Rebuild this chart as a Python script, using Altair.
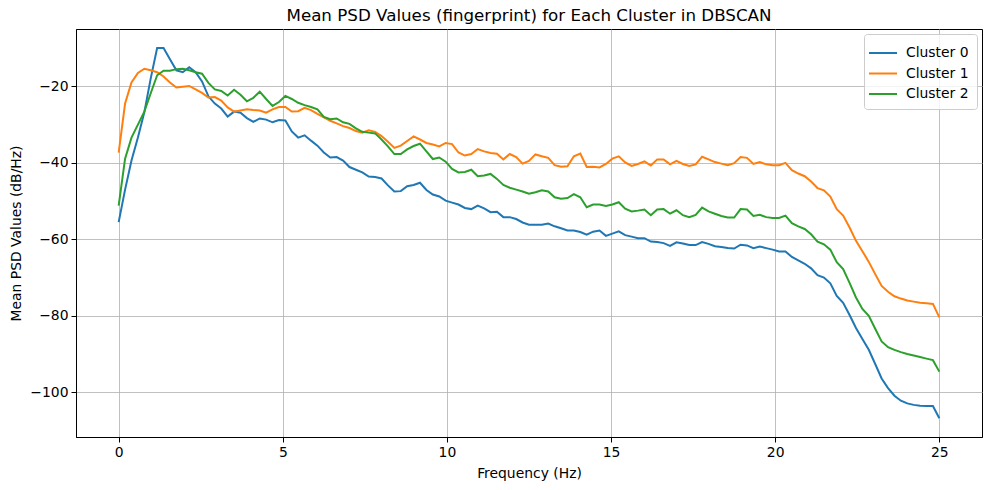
import altair as alt
import pandas as pd

n_points = 129
freq = [k * 25 / 128 for k in range(n_points)]

cluster_names = ["Cluster 0", "Cluster 1", "Cluster 2"]
colors = ["#1f77b4", "#ff7f0e", "#2ca02c"]

c0 = [-55.5, -47.0, -39.4, -33.4, -26.8, -17.9, -10.0, -10.0, -12.9, -15.8,
      -16.3, -15.0, -16.3, -18.7, -22.6, -24.5, -25.8, -27.9, -26.6, -26.9,
      -28.3, -29.3, -28.4, -28.7, -29.4, -28.8, -28.9, -31.8, -33.4, -32.8,
      -34.2, -35.5, -37.3, -38.6, -38.5, -39.4, -41.1, -41.8, -42.5, -43.6,
      -43.7, -44.1, -45.9, -47.5, -47.4, -46.1, -45.8, -45.2, -47.1, -48.3,
      -48.8, -49.9, -50.4, -50.9, -51.8, -52.1, -51.2, -51.9, -52.9, -52.8,
      -54.2, -54.2, -54.7, -55.6, -56.2, -56.2, -56.2, -55.9, -56.6, -57.1,
      -57.7, -57.7, -58.1, -58.8, -58.0, -57.7, -59.1, -58.5, -57.9, -58.9,
      -59.3, -59.7, -59.7, -60.6, -60.7, -61.0, -61.7, -60.8, -61.1, -61.5,
      -61.5, -60.7, -61.2, -61.8, -62.0, -62.3, -62.4, -61.4, -61.6, -62.3,
      -61.9, -62.3, -62.7, -63.2, -63.2, -64.6, -65.5, -66.4, -67.6, -69.4,
      -70.0, -71.5, -74.8, -76.6, -79.8, -83.2, -86.1, -88.9, -92.6, -96.4,
      -98.9, -100.9, -102.2, -102.9, -103.3, -103.5, -103.6, -103.6, -106.8]

c1 = [-37.3, -24.5, -19.0, -16.5, -15.4, -15.8, -16.3, -17.4, -19.0, -20.3,
      -20.1, -19.9, -20.8, -21.7, -22.9, -22.8, -23.7, -25.5, -26.6, -26.3,
      -26.0, -26.2, -26.3, -26.9, -26.0, -25.4, -25.4, -26.6, -26.5, -25.6,
      -26.2, -27.2, -28.1, -29.0, -29.7, -30.4, -30.9, -31.7, -32.1, -31.5,
      -31.9, -33.0, -34.5, -36.1, -35.5, -34.3, -33.1, -33.9, -34.8, -35.2,
      -35.7, -34.8, -35.1, -37.3, -38.1, -37.7, -36.4, -37.0, -37.4, -37.6,
      -39.1, -37.7, -38.5, -40.2, -39.5, -37.8, -38.3, -38.7, -40.6, -41.0,
      -40.9, -38.3, -37.6, -41.1, -41.0, -41.2, -40.3, -38.9, -38.3, -39.9,
      -40.8, -40.3, -39.6, -40.7, -39.1, -39.1, -40.4, -39.5, -40.3, -40.8,
      -40.4, -38.4, -39.1, -39.8, -40.2, -40.6, -40.1, -38.5, -38.7, -40.3,
      -39.8, -40.4, -40.6, -40.6, -40.0, -41.9, -42.8, -43.5, -44.9, -46.6,
      -47.2, -48.8, -52.1, -53.8, -56.9, -60.4, -63.1, -65.9, -69.1, -72.2,
      -73.7, -74.9, -75.5, -76.0, -76.3, -76.6, -76.7, -76.9, -80.4]

c2 = [-51.2, -38.9, -33.4, -30.0, -26.6, -21.8, -17.1, -15.9, -15.9, -15.5,
      -15.4, -15.8, -16.3, -16.7, -19.1, -20.8, -21.2, -22.4, -20.9, -22.2,
      -23.9, -23.0, -21.4, -23.3, -25.1, -24.1, -22.5, -23.3, -24.3, -24.9,
      -25.4, -26.0, -28.0, -28.6, -28.4, -29.4, -29.8, -31.0, -31.9, -32.1,
      -32.3, -33.9, -35.7, -37.7, -37.7, -36.5, -35.6, -35.0, -37.0, -39.0,
      -38.6, -39.7, -41.6, -42.5, -42.4, -41.8, -43.5, -43.3, -42.9, -44.2,
      -45.8, -46.5, -47.0, -47.5, -48.1, -47.7, -47.2, -47.5, -49.0, -49.4,
      -49.2, -48.2, -49.0, -51.6, -50.9, -50.9, -51.3, -50.9, -50.3, -52.0,
      -52.7, -52.5, -52.2, -53.7, -52.2, -52.1, -53.3, -52.4, -53.7, -54.2,
      -53.6, -51.7, -52.7, -53.3, -53.9, -54.3, -54.3, -52.1, -52.2, -53.9,
      -53.6, -54.2, -54.4, -54.4, -53.8, -55.8, -56.6, -57.3, -58.7, -60.6,
      -61.3, -62.7, -66.0, -67.8, -71.4, -75.2, -78.2, -80.0, -83.4, -86.7,
      -88.2, -88.9, -89.5, -90.0, -90.4, -90.8, -91.2, -91.6, -94.6]

x_ticks = [0, 5, 10, 15, 20, 25]
y_ticks = [-100, -80, -60, -40, -20]

rows = []
for name, series in zip(cluster_names, [c0, c1, c2]):
    for f, v in zip(freq, series):
        rows.append({"freq": f, "psd": v, "cluster": name, "order": cluster_names.index(name)})
df = pd.DataFrame(rows)

FONT = "DejaVu Sans"

chart = alt.Chart(df).mark_line(strokeWidth=2, clip=True).encode(
    x=alt.X("freq:Q",
            scale=alt.Scale(domain=[-1.3, 26.3], nice=False, zero=False),
            axis=alt.Axis(values=x_ticks, format="d", title="Frequency (Hz)",
                          grid=True, gridColor="#b0b0b0", gridWidth=0.8,
                          domainColor="black", tickColor="black", tickSize=5,
                          labelPadding=3, labelFontSize=13.9, labelColor="black",
                          titleFontSize=13.9, titleFontWeight="normal", titleColor="black",
                          titlePadding=8, labelFont=FONT, titleFont=FONT)),
    y=alt.Y("psd:Q",
            scale=alt.Scale(domain=[-111.7, -5.0], nice=False, zero=False),
            axis=alt.Axis(values=y_ticks, format="d", title="Mean PSD Values (dB/Hz)",
                          grid=True, gridColor="#b0b0b0", gridWidth=0.8,
                          domainColor="black", tickColor="black", tickSize=5,
                          labelPadding=3, labelFontSize=13.9, labelColor="black",
                          titleFontSize=13.9, titleFontWeight="normal", titleColor="black",
                          titlePadding=6, labelFont=FONT, titleFont=FONT)),
    color=alt.Color("cluster:N",
                    scale=alt.Scale(domain=cluster_names, range=colors),
                    legend=alt.Legend(title=None, orient="top-right", offset=5,
                                      strokeColor="#cccccc", fillColor="rgba(255,255,255,0.8)",
                                      padding=8, cornerRadius=3,
                                      labelFontSize=13.9, labelFont=FONT, labelColor="black",
                                      symbolType="M-1.4,0L1.4,0", symbolSize=400,
                                      symbolStrokeWidth=2, rowPadding=2.5, labelOffset=12)),
    order=alt.Order("order:Q"),
).properties(
    width=906,
    height=408,
    title=alt.TitleParams("Mean PSD Values (fingerprint) for Each Cluster in DBSCAN",
                          fontSize=16.7, fontWeight="normal", font=FONT, color="black",
                          anchor="middle", offset=4),
    autosize=alt.AutoSizeParams(type="none"),
    padding={"left": 76, "top": 29, "right": 7, "bottom": 53},
).configure_view(stroke="black", strokeWidth=1)

chart.save("out.html", embed_options={"renderer": "svg", "actions": False})
